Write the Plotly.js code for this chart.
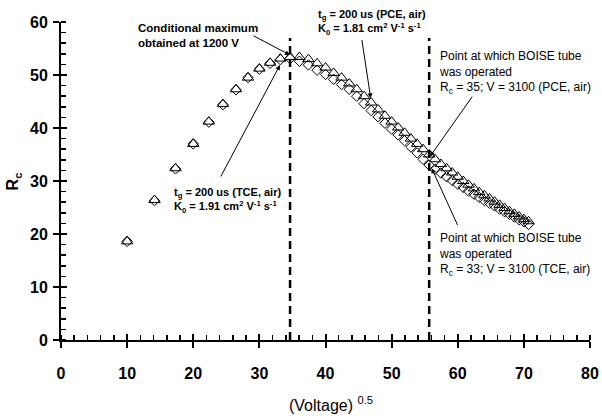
<!DOCTYPE html>
<html>
<head>
<meta charset="utf-8">
<script src="https://cdn.plot.ly/plotly-3.0.1.min.js"></script>
<style>
  body { margin: 0; background: #fff; }
  #chart { width: 602px; height: 416px; }
</style>
</head>
<body>
<div id="chart"></div>
<script>
// (Voltage)^0.5 for V = 100 ... 5000 V
var sqrtVoltage = [10, 14.14, 17.32, 20, 22.36, 24.49, 26.46, 28.28, 30, 31.62, 33.17, 34.64,
  36.06, 37.42, 38.73, 40, 41.23, 42.43, 43.59, 44.72, 45.83, 46.90, 47.96, 48.99, 50, 50.99,
  51.96, 52.92, 53.85, 54.77, 55.68, 56.57, 57.45, 58.31, 59.16, 60, 60.83, 61.64, 62.45, 63.25,
  64.03, 64.81, 65.57, 66.33, 67.08, 67.82, 68.56, 69.28, 70, 70.71];

// Rc, PCE in air (triangles)
var rcPCE = [18.6, 26.4, 32.4, 37.0, 41.2, 44.5, 47.3, 49.5, 51.2, 52.3, 53.1, 53.4,
  53.4, 53.0, 52.2, 51.4, 50.4, 49.5, 48.4, 47.3, 46.0, 44.8, 43.5, 42.3, 41.2, 40.1,
  39.1, 38.0, 37.0, 36.0, 35.0, 34.1, 33.2, 32.4, 31.6, 30.8, 30.0, 29.3, 28.6, 27.9,
  27.3, 26.7, 26.1, 25.5, 24.9, 24.3, 23.8, 23.3, 22.8, 22.4];

// Rc, TCE in air (diamonds)
var rcTCE = [18.6, 26.3, 32.3, 37.0, 41.1, 44.4, 47.2, 49.5, 51.1, 52.2, 52.9, 53.1,
  52.6, 51.9, 50.9, 50.1, 49.2, 48.2, 47.3, 46.0, 44.6, 43.3, 42.1, 40.9, 39.8, 38.7,
  37.6, 36.4, 35.3, 34.1, 33.0, 32.2, 31.5, 30.8, 30.1, 29.4, 28.8, 28.1, 27.5, 26.9,
  26.3, 25.8, 25.3, 24.7, 24.2, 23.7, 23.2, 22.7, 22.3, 21.8];

// dashed markers: 1200 V and 3100 V
var dashedAt = [34.64, 55.68];

var fontFam = '"Liberation Sans", Arial, sans-serif';

var traces = [
  {
    x: sqrtVoltage, y: rcTCE, type: 'scatter', mode: 'markers', name: 'TCE',
    marker: { symbol: 'diamond-open', size: 8, color: '#000', line: { width: 1, color: '#000' } },
    cliponaxis: false
  },
  {
    x: sqrtVoltage, y: rcPCE, type: 'scatter', mode: 'markers', name: 'PCE',
    marker: { symbol: 'triangle-up-open', size: 10, color: '#000', line: { width: 1, color: '#000' } },
    cliponaxis: false
  },
  // empty trace so the overlay axes (inner half of the major ticks) get drawn
  { x: [null], y: [null], xaxis: 'x2', yaxis: 'y2', type: 'scatter', mode: 'markers', hoverinfo: 'skip' }
];

var shapes = dashedAt.map(function (v) {
  return {
    type: 'line', xref: 'x', yref: 'y', x0: v, x1: v, y0: 0, y1: 57,
    line: { color: '#000', width: 2.5, dash: '8px,5px' }
  };
});

var boldSmall = { family: fontFam, size: 11, color: '#000', weight: 'bold' };
var boldMid = { family: fontFam, size: 11.5, color: '#000', weight: 'bold' };
var plainBig = { family: fontFam, size: 12, color: '#000' };

function arrow(hx, hy, tx, ty) {
  return {
    x: hx, y: hy, ax: tx, ay: ty, xref: 'x', yref: 'y', axref: 'x', ayref: 'y',
    text: '', showarrow: true, arrowhead: 2, arrowsize: 1, arrowwidth: 1, arrowcolor: '#000'
  };
}

function label(x, y, txt, font, ref) {
  return {
    x: x, y: y, xref: ref || 'x', yref: ref || 'y', text: txt, showarrow: false,
    xanchor: 'left', yanchor: 'middle', align: 'left', font: font
  };
}

var annotations = [
  label(11.34, 57.5, 'Conditional maximum<br>obtained at 1200 V', boldMid),
  label(16.8, 26.4, 't<sub>g</sub> = 200 us (TCE, air)<br>K<sub>0</sub> = 1.91 cm<sup>2</sup> V<sup>-1</sup> s<sup>-1</sup>', boldSmall),
  label(0.482, 1.0, 't<sub>g</sub> = 200 us (PCE, air)<br>K<sub>0</sub> = 1.81 cm<sup>2</sup> V<sup>-1</sup> s<sup>-1</sup>', boldSmall, 'paper'),
  label(56.86, 50.5, 'Point at which BOISE tube<br>was operated<br>R<sub>c</sub> = 35; V = 3100 (PCE, air)', plainBig),
  label(56.86, 16.2, 'Point at which BOISE tube<br>was operated<br>R<sub>c</sub> = 33; V = 3100 (TCE, air)', plainBig),
  arrow(34.63, 53.77, 28.88, 57.55),
  arrow(33.12, 51.9, 24.05, 30.57),
  arrow(46.84, 45.6, 45.47, 56.9),
  arrow(55.8, 34.6, 62.35, 46.2),
  arrow(56.06, 32.4, 60.08, 21.4),
  // axis titles
  {
    x: 0.51, y: -0.165, xref: 'paper', yref: 'paper', xanchor: 'center', yanchor: 'top',
    text: '(Voltage) <sup>0.5</sup>', showarrow: false,
    font: { family: fontFam, size: 16, color: '#000' }
  },
  {
    x: -0.09, y: 0.5, xref: 'paper', yref: 'paper', xanchor: 'center', yanchor: 'middle',
    text: 'R<sub>c</sub>', showarrow: false, textangle: -90,
    font: { family: fontFam, size: 16, color: '#000', weight: 'bold' }
  }
];

var tickFont = { family: fontFam, size: 16, color: '#000', weight: 'bold' };

var layout = {
  width: 602, height: 416,
  margin: { l: 61, r: 12, t: 22, b: 76 },
  paper_bgcolor: '#fff', plot_bgcolor: '#fff',
  showlegend: false,
  xaxis: {
    range: [0, 80], dtick: 10, tick0: 0, showgrid: false, zeroline: false,
    showline: true, linecolor: '#000', linewidth: 2,
    ticks: 'outside', ticklen: 6, tickwidth: 2, tickcolor: '#000',
    minor: { dtick: 2, ticks: 'inside', ticklen: 5, tickwidth: 1.5, tickcolor: '#000' },
    tickfont: tickFont, ticklabelstandoff: 12, fixedrange: true
  },
  yaxis: {
    range: [0, 60], dtick: 10, tick0: 0, showgrid: false, zeroline: false,
    showline: true, linecolor: '#000', linewidth: 2,
    ticks: 'outside', ticklen: 6, tickwidth: 2, tickcolor: '#000',
    minor: { dtick: 2, ticks: 'inside', ticklen: 5, tickwidth: 1.5, tickcolor: '#000' },
    tickfont: tickFont, ticklabelstandoff: 2, fixedrange: true
  },
  xaxis2: {
    overlaying: 'x', anchor: 'y2', range: [0, 80], dtick: 10, tick0: 0,
    showgrid: false, zeroline: false, showline: false, showticklabels: false,
    ticks: 'inside', ticklen: 6, tickwidth: 2, tickcolor: '#000', fixedrange: true
  },
  yaxis2: {
    overlaying: 'y', anchor: 'x2', range: [0, 60], dtick: 10, tick0: 0,
    showgrid: false, zeroline: false, showline: false, showticklabels: false,
    ticks: 'inside', ticklen: 6, tickwidth: 2, tickcolor: '#000', fixedrange: true
  },
  shapes: shapes,
  annotations: annotations
};

Plotly.newPlot('chart', traces, layout, { displayModeBar: false, staticPlot: true });
</script>
</body>
</html>
